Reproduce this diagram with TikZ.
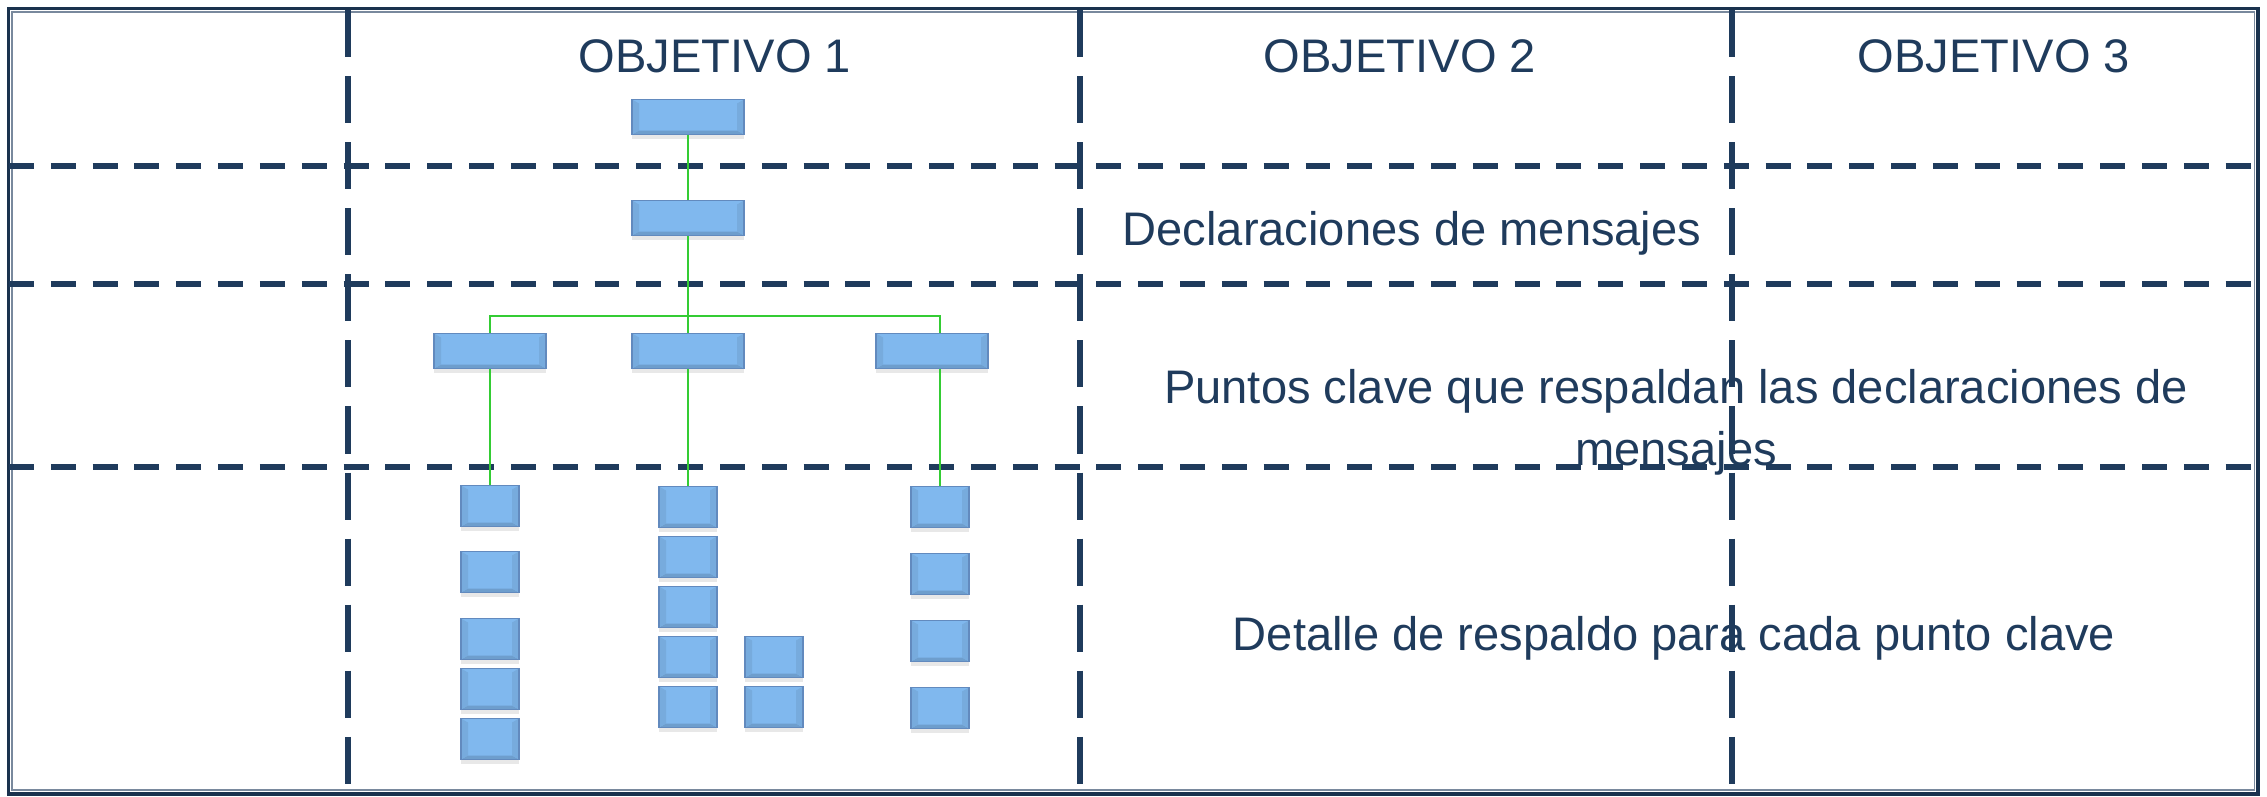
\documentclass[tikz,border=0pt]{standalone}
\usepackage{fontspec}
\setmainfont{Liberation Sans}
\usetikzlibrary{shadows}
\definecolor{navy}{RGB}{31,59,92}
\definecolor{boxblue}{RGB}{128,184,238}
\definecolor{boxedge}{RGB}{98,138,190}
\definecolor{linkgreen}{RGB}{52,204,52}
\begin{document}
\begin{tikzpicture}[x=0.1mm,y=-0.1mm,
  hgrid/.style={navy,line width=1.7pt,dash pattern=on 7.1pt off 4.8pt},
  vgrid/.style={navy,line width=1.55pt,dash pattern=on 13.4pt off 5.4pt},
  head/.style={navy,anchor=base,inner sep=0pt,font=\fontsize{13.4}{17.6}\selectfont},
  wbox/.style={draw=boxedge,fill=boxblue,line width=0.4pt,inner sep=0pt,
    minimum width=11.2mm,minimum height=3.5mm,
    drop shadow={shadow xshift=0mm,shadow yshift=-0.45mm,opacity=0.18},
    path picture={
      \fill[boxblue!86!black] (path picture bounding box.south west) -- (path picture bounding box.south east)
        -- ([shift={(-0.7mm,0.4mm)}]path picture bounding box.south east) -- ([shift={(0.7mm,0.4mm)}]path picture bounding box.south west) -- cycle;
      \fill[boxblue!93!black] (path picture bounding box.south west) -- (path picture bounding box.north west)
        -- ([shift={(0.7mm,-0.4mm)}]path picture bounding box.north west) -- ([shift={(0.7mm,0.4mm)}]path picture bounding box.south west) -- cycle;
      \fill[boxblue!93!black] (path picture bounding box.south east) -- (path picture bounding box.north east)
        -- ([shift={(-0.7mm,-0.4mm)}]path picture bounding box.north east) -- ([shift={(-0.7mm,0.4mm)}]path picture bounding box.south east) -- cycle;
    }},
  dbox/.style={wbox,minimum width=5.8mm,minimum height=4.1mm},
  link/.style={linkgreen,line width=0.45pt}]
\useasboundingbox (0,0) rectangle (2267,796);
\draw[navy!85!black,line width=0.9pt] (8.5,8.5) rectangle (2258,794);
\draw[navy!60,line width=0.3pt] (12,12) rectangle (2254,790);
\draw[vgrid] (348,10) -- (348,786);
\draw[vgrid] (1080,10) -- (1080,786);
\draw[vgrid] (1732,10) -- (1732,786);
\draw[hgrid] (9,166) -- (2256,166);
\draw[hgrid] (9,284) -- (2256,284);
\draw[hgrid] (9,467) -- (2256,467);
\node[head] (obj1) at (715,72) {OBJETIVO 1};
\node[head] (obj2) at (1400,72) {OBJETIVO 2};
\node[head] (obj3) at (1994,72) {OBJETIVO 3};
\node[head] (declt) at (1412,245) {Declaraciones de mensajes};
\node[head,align=center] (kpt) at (1676,465) {Puntos clave que respaldan las declaraciones de\\mensajes};
\node[head] (dett) at (1674,650) {Detalle de respaldo para cada punto clave};
\node[wbox] (obj) at (688,117) {};
\node[wbox] (decl) at (688,218) {};
\node[wbox] (kpA) at (490,351) {};
\node[wbox] (kpB) at (688,351) {};
\node[wbox] (kpC) at (932,351) {};
\node[dbox] (d11) at (490,506) {};
\node[dbox] (d12) at (490,572) {};
\node[dbox] (d13) at (490,639) {};
\node[dbox] (d14) at (490,689) {};
\node[dbox] (d15) at (490,739) {};
\node[dbox] (d21) at (688,507) {};
\node[dbox] (d22) at (688,557) {};
\node[dbox] (d23) at (688,607) {};
\node[dbox] (d24) at (688,657) {};
\node[dbox] (d25) at (688,707) {};
\node[dbox] (d41) at (774,657) {};
\node[dbox] (d42) at (774,707) {};
\node[dbox] (d31) at (940,507) {};
\node[dbox] (d32) at (940,574) {};
\node[dbox] (d33) at (940,641) {};
\node[dbox] (d34) at (940,708) {};
\coordinate (bus) at (688,316);
\draw[link] (obj) -- (decl);
\draw[link] (decl) -- (kpB);
\draw[link] (kpA.north) |- (bus) -| ([xshift=0.8mm]kpC.north);
\draw[link] (kpA) -- (d11);
\draw[link] (kpB) -- (d21);
\draw[link] ([xshift=0.8mm]kpC.south) -- (d31.north);
\end{tikzpicture}
\end{document}
